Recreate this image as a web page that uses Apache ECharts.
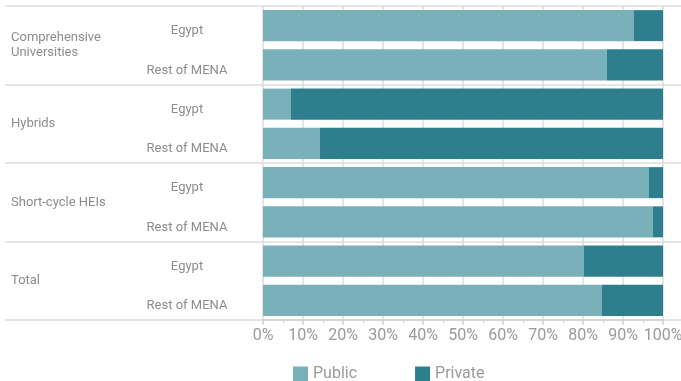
<!DOCTYPE html>
<html><head><meta charset="utf-8">
<script src="https://cdn.jsdelivr.net/npm/echarts@6/dist/echarts.min.js"></script>
<style>html,body{margin:0;padding:0;background:#fff}#c{width:681px;height:381px}</style>
</head><body><div id="c"></div>
<script>
const groups = ['Comprehensive\nUniversities', 'Hybrids', 'Short-cycle HEIs', 'Total'];
const categories = ['Egypt', 'Rest of MENA', 'Egypt', 'Rest of MENA', 'Egypt', 'Rest of MENA', 'Egypt', 'Rest of MENA'];
const publicValues = [92.75, 86, 7, 14.25, 96.5, 97.5, 80.25, 84.75];
const privateValues = [7.25, 14, 93, 85.75, 3.5, 2.5, 19.75, 15.25];
const seriesNames = ['Public', 'Private'];

const chart = echarts.init(document.getElementById('c'));
const font = 'Roboto, sans-serif';
chart.setOption({
  animation: false,
  textStyle: { fontFamily: font },
  grid: [
    { left: 263, right: 18, top: 6, bottom: 61, outerBoundsMode: 'none', containLabel: false },
    { left: 5, right: 0, top: 6, bottom: 61, outerBoundsMode: 'none', containLabel: false }
  ],
  xAxis: [
    { gridIndex: 0, type: 'value', min: 0, max: 100, interval: 10,
      axisLine: { show: true, lineStyle: { color: '#d0d0d0', width: 1.5 } },
      axisTick: { show: true, length: 5, lineStyle: { color: '#d0d0d0', width: 1.5 } },
      minorTick: { show: true, splitNumber: 2, length: 3, lineStyle: { color: '#d0d0d0' } },
      splitLine: { show: true, lineStyle: { color: '#dcdcdc', width: 1.5 } },
      axisLabel: { formatter: '{value}%', color: '#9a9a9a', fontSize: 16, margin: 8, fontFamily: font } },
    { gridIndex: 1, type: 'value', show: false }
  ],
  yAxis: [
    { gridIndex: 0, type: 'category', data: categories, inverse: true,
      axisLine: { show: false }, axisTick: { show: false },
      axisLabel: { align: 'center', verticalAlign: 'top', margin: 76, color: '#8c8c8c', fontSize: 13, lineHeight: 11, fontFamily: font } },
    { gridIndex: 1, type: 'category', data: groups, inverse: true,
      axisLine: { show: false }, axisTick: { show: false },
      splitLine: { show: true, lineStyle: { color: '#dcdcdc', width: 1.5 } },
      axisLabel: { inside: true, align: 'left', margin: 6, color: '#8c8c8c', fontSize: 13, lineHeight: 15, fontFamily: font } }
  ],
  legend: {
    data: seriesNames, left: 288, top: 361, itemWidth: 15, itemHeight: 15, itemGap: 58,
    icon: 'rect', textStyle: { color: '#9a9a9a', fontSize: 16, fontFamily: font }
  },
  series: [
    { name: seriesNames[0], type: 'bar', stack: 's', data: publicValues, xAxisIndex: 0, yAxisIndex: 0,
      barCategoryGap: '21%', itemStyle: { color: '#7ab0ba' } },
    { name: seriesNames[1], type: 'bar', stack: 's', data: privateValues, xAxisIndex: 0, yAxisIndex: 0,
      barCategoryGap: '21%', itemStyle: { color: '#2e7f8e' } }
  ]
});
</script></body></html>
